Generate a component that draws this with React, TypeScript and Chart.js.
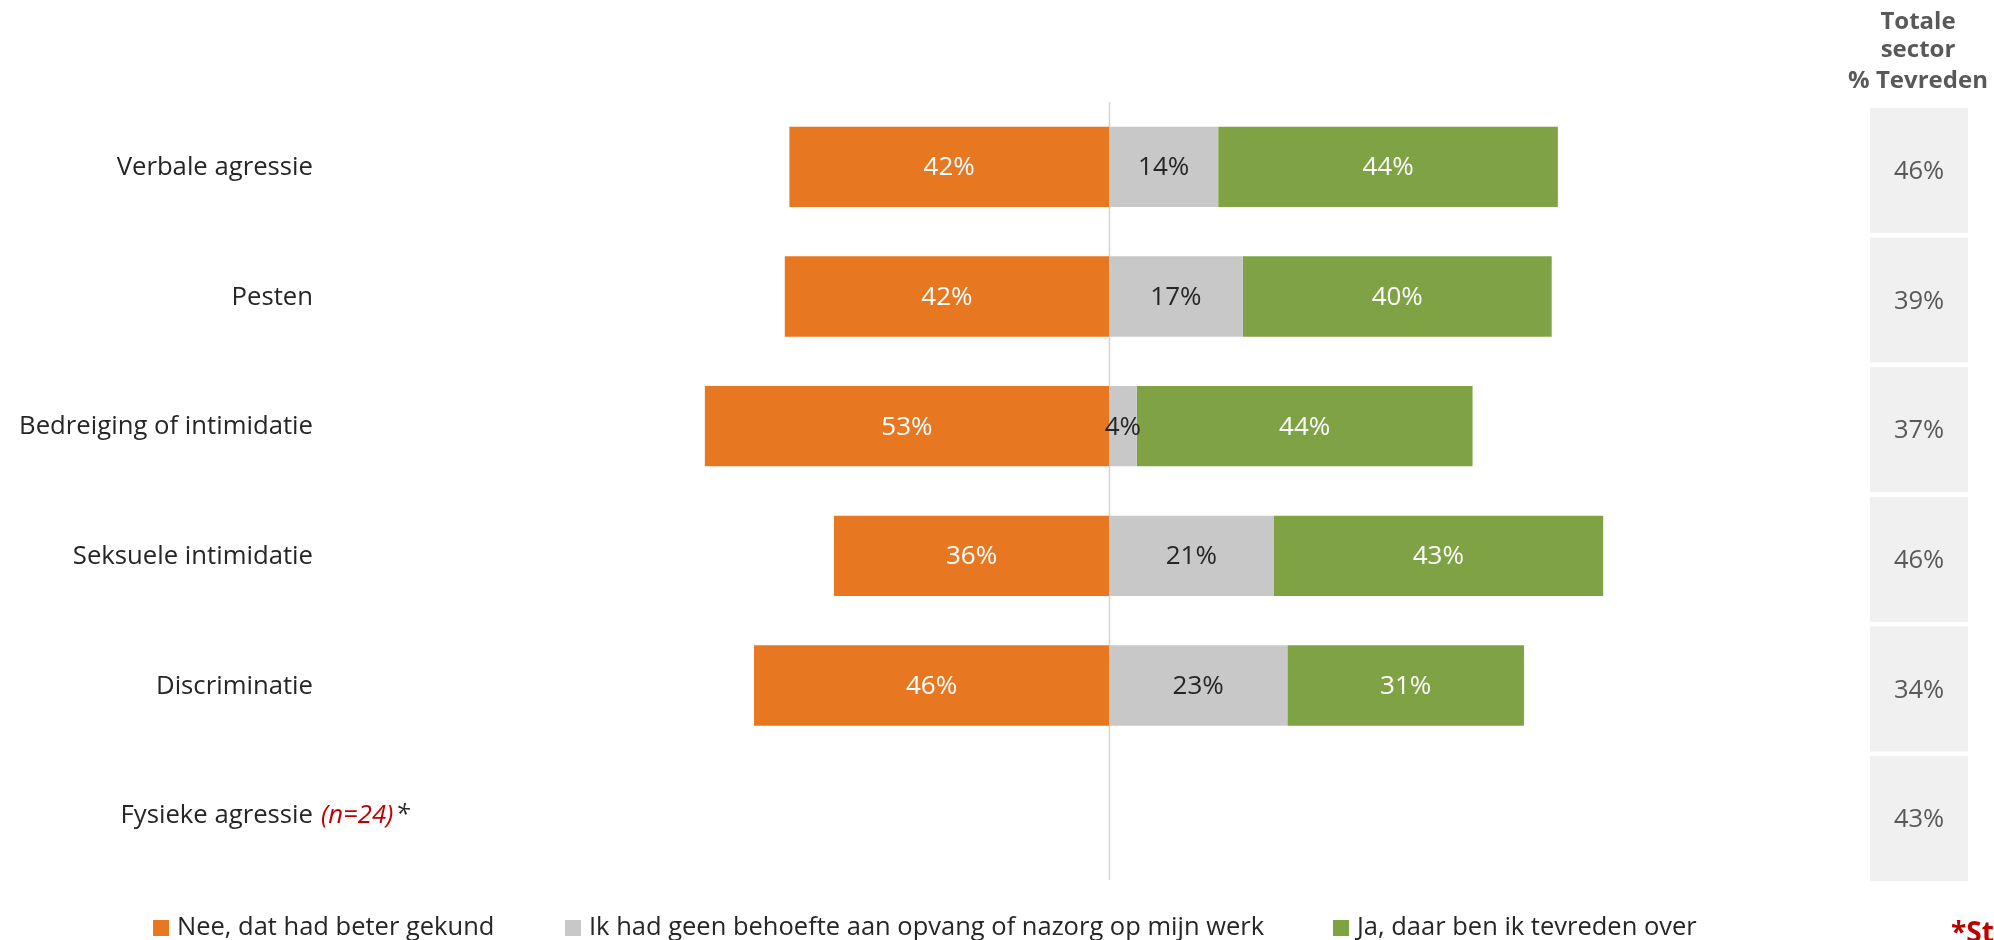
import React, { useEffect, useRef } from 'react';
import { Chart, registerables } from 'chart.js';

Chart.register(...registerables);

const categories = [
  'Verbale agressie',
  'Pesten',
  'Bedreiging of intimidatie',
  'Seksuele intimidatie',
  'Discriminatie',
  'Fysieke agressie',
];
const categoryNotes = ['', '', '', '', '', '(n=24)'];
const seriesNames = [
  'Nee, dat had beter gekund',
  'Ik had geen behoefte aan opvang of nazorg op mijn werk',
  'Ja, daar ben ik tevreden over',
];
const neeValues = [41.6, 42.2, 52.6, 35.8, 46.2, null];
const geenBehoefteValues = [14.2, 17.4, 3.6, 21.4, 23.2, null];
const tevredenValues = [44.2, 40.2, 43.7, 42.9, 30.8, null];
const sectorTevreden = [46, 39, 37, 46, 34, 43];
const sectorHeader = ['Totale', 'sector', '% Tevreden'];
const footnote = '*Steekproef te klein';

const COLORS = ['#E87722', '#C8C8C9', '#7FA344'];
const FONT = '"Open Sans", "Noto Sans", sans-serif';

const decorPlugin = {
  id: 'decor',
  beforeDatasetsDraw(chart: any) {
    const { ctx, chartArea, scales } = chart;
    const x0 = Math.round(scales.x.getPixelForValue(0)) + 0.5;
    ctx.save();
    ctx.strokeStyle = '#D4D4D4';
    ctx.lineWidth = 1.5;
    ctx.beginPath();
    ctx.moveTo(x0, chartArea.top);
    ctx.lineTo(x0, chartArea.bottom);
    ctx.stroke();
    ctx.restore();
  },
  afterDraw(chart: any) {
    const { ctx, scales } = chart;
    const yScale = scales.y;
    ctx.save();

    // value labels inside bars
    const raw = [neeValues, geenBehoefteValues, tevredenValues];
    ctx.font = `26px ${FONT}`;
    ctx.textAlign = 'center';
    ctx.textBaseline = 'middle';
    chart.data.datasets.forEach((ds: any, d: number) => {
      const meta = chart.getDatasetMeta(d);
      meta.data.forEach((bar: any, i: number) => {
        const v = raw[d][i];
        if (v == null) return;
        const p = bar.getProps(['x', 'base', 'y'], true);
        ctx.fillStyle = d === 1 ? '#262626' : '#FFFFFF';
        ctx.fillText(Math.round(Math.abs(v)) + '%', (p.x + p.base) / 2, p.y + 1);
      });
    });

    // category labels
    const labelRight = 313;
    categories.forEach((cat, i) => {
      const cy = yScale.getPixelForValue(i) + 1;
      ctx.font = `25.7px ${FONT}`;
      ctx.textAlign = 'right';
      ctx.textBaseline = 'middle';
      ctx.fillStyle = '#262626';
      ctx.fillText(cat, labelRight, cy);
      if (categoryNotes[i]) {
        ctx.textAlign = 'left';
        ctx.font = `italic 25.7px ${FONT}`;
        const nx = labelRight + 8;
        ctx.fillStyle = '#C00000';
        ctx.fillText(categoryNotes[i], nx, cy);
        const w = ctx.measureText(categoryNotes[i]).width;
        ctx.fillStyle = '#262626';
        ctx.fillText('*', nx + w + 2, cy);
      }
    });

    // right column: totale sector
    sectorTevreden.forEach((v, i) => {
      const cy = yScale.getPixelForValue(i);
      ctx.fillStyle = '#F0F0F0';
      ctx.fillRect(1870, cy - 59, 98, 125);
      ctx.fillStyle = '#595959';
      ctx.font = `25.5px ${FONT}`;
      ctx.textAlign = 'center';
      ctx.textBaseline = 'middle';
      ctx.fillText(v + '%', 1919, cy + 5);
    });

    // header
    ctx.font = `bold 24px ${FONT}`;
    ctx.fillStyle = '#595959';
    ctx.textAlign = 'center';
    ctx.textBaseline = 'middle';
    const headerY = [22, 50, 81];
    sectorHeader.forEach((t, i) => ctx.fillText(t, 1918, headerY[i]));

    // legend
    const legendX = [153, 565, 1333];
    seriesNames.forEach((name, i) => {
      ctx.fillStyle = COLORS[i];
      ctx.fillRect(legendX[i], 920, 16, 16);
      ctx.fillStyle = '#262626';
      ctx.font = `25.5px ${FONT}`;
      ctx.textAlign = 'left';
      ctx.textBaseline = 'middle';
      ctx.fillText(name, legendX[i] + 24, 928);
    });

    // footnote
    ctx.font = `bold 28px ${FONT}`;
    ctx.fillStyle = '#C00000';
    ctx.textAlign = 'left';
    ctx.textBaseline = 'alphabetic';
    ctx.fillText(footnote, 1951, 942);

    ctx.restore();
  },
};

export default function App() {
  const ref = useRef<HTMLCanvasElement>(null);

  useEffect(() => {
    if (!ref.current) return;
    const chart = new Chart(ref.current, {
      type: 'bar',
      data: {
        labels: categories,
        datasets: [
          {
            label: seriesNames[0],
            data: neeValues.map((v) => (v == null ? null : -v)),
            backgroundColor: COLORS[0],
          },
          {
            label: seriesNames[1],
            data: geenBehoefteValues,
            backgroundColor: COLORS[1],
          },
          {
            label: seriesNames[2],
            data: tevredenValues,
            backgroundColor: COLORS[2],
          },
        ],
      },
      options: {
        indexAxis: 'y',
        responsive: false,
        maintainAspectRatio: false,
        animation: false,
        layout: { padding: { left: 648, right: 347, top: 102, bottom: 60 } },
        datasets: {
          bar: { categoryPercentage: 1, barPercentage: 0.62, borderWidth: 0 },
        },
        scales: {
          x: { stacked: true, min: -60, max: 70, display: false },
          y: { stacked: true, display: false },
        },
        plugins: {
          legend: { display: false },
          tooltip: { enabled: false },
        },
      },
      plugins: [decorPlugin],
    } as any);
    return () => chart.destroy();
  }, []);

  return (
    <div style={{ position: 'fixed', left: 0, top: 0, width: 1994, height: 940, background: '#FFFFFF' }}>
      <canvas ref={ref} width={1994} height={940} style={{ width: 1994, height: 940, display: 'block' }} />
    </div>
  );
}
